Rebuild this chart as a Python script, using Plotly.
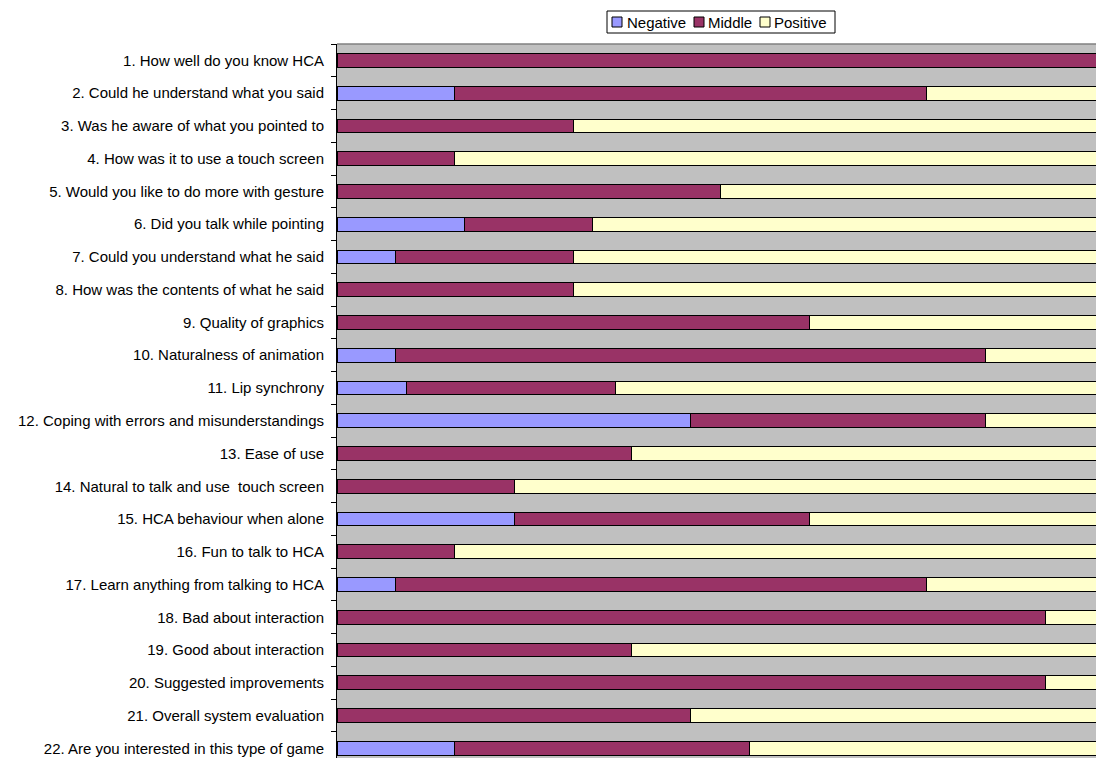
import plotly.graph_objects as go

categories = [
    "1. How well do you know HCA",
    "2. Could he understand what you said",
    "3. Was he aware of what you pointed to",
    "4. How was it to use a touch screen",
    "5. Would you like to do more with gesture",
    "6. Did you talk while pointing",
    "7. Could you understand what he said",
    "8. How was the contents of what he said",
    "9. Quality of graphics",
    "10. Naturalness of animation",
    "11. Lip synchrony",
    "12. Coping with errors and misunderstandings",
    "13. Ease of use",
    "14. Natural to talk and use  touch screen",
    "15. HCA behaviour when alone",
    "16. Fun to talk to HCA",
    "17. Learn anything from talking to HCA",
    "18. Bad about interaction",
    "19. Good about interaction",
    "20. Suggested improvements",
    "21. Overall system evaluation",
    "22. Are you interested in this type of game",
]
series_names = ["Negative", "Middle", "Positive"]
negative = [0, 15.38, 0, 0, 0, 16.67, 7.69, 0, 0, 7.69, 9.09, 46.15, 0, 0, 23.08, 0, 7.69, 0, 0, 0, 0, 15.38]
middle = [100, 61.54, 30.77, 15.38, 50, 16.67, 23.08, 30.77, 61.54, 76.92, 27.27, 38.46, 38.46, 23.08, 38.46, 15.38, 69.23, 92.31, 38.46, 92.31, 46.15, 38.46]
positive = [0, 23.08, 69.23, 84.62, 50, 66.67, 69.23, 69.23, 38.46, 15.38, 63.64, 15.38, 61.54, 76.92, 38.46, 84.62, 23.08, 7.69, 61.54, 7.69, 53.85, 46.15]
colors = ["#9999FF", "#993366", "#FFFFCC"]

W, H = 1096, 758
ML, MT, MR, MB = 337, 44, 0, 0
FONT = "Liberation Sans, Arial, sans-serif"

fig = go.Figure()
for name, vals, col in zip(series_names, [negative, middle, positive], colors):
    fig.add_trace(go.Bar(
        y=categories, x=[v if v else None for v in vals], name=name, orientation="h",
        width=0.42, marker=dict(color=col, line=dict(color="black", width=1)),
        showlegend=False,
    ))

pw, ph = W - ML - MR, H - MT - MB
def px2x(px):
    return (px - ML) / pw
def px2y(py):
    return (H - MB - py) / ph

shapes = []
annotations = []
# legend box
shapes.append(dict(type="rect", xref="paper", yref="paper", x0=px2x(607), x1=px2x(835),
                   y0=px2y(33), y1=px2y(11), line=dict(color="black", width=1), fillcolor="white"))
leg_sq = [612, 694, 760]
leg_tx = [626, 707, 773]
for name, col, sx, tx in zip(series_names, colors, leg_sq, leg_tx):
    shapes.append(dict(type="rect", xref="paper", yref="paper", x0=px2x(sx), x1=px2x(sx + 10),
                       y0=px2y(27), y1=px2y(17), line=dict(color="black", width=1), fillcolor=col))
    annotations.append(dict(xref="paper", yref="paper", x=px2x(tx), y=px2y(22), text=name,
                            showarrow=False, xanchor="left", yanchor="middle",
                            font=dict(family=FONT, size=15, color="black"), borderpad=0))
# top border of plot area
shapes.append(dict(type="line", xref="paper", yref="paper", x0=0, x1=1, y0=1, y1=1,
                   line=dict(color="#808080", width=1.5)))

fig.update_layout(
    width=W, height=H, barmode="stack",
    margin=dict(l=ML, r=MR, t=MT, b=MB),
    paper_bgcolor="white", plot_bgcolor="#C0C0C0",
    font=dict(family=FONT, size=15, color="black"),
    shapes=shapes, annotations=annotations,
    xaxis=dict(range=[0, 100 * pw / 767], showticklabels=False, showgrid=False,
               zeroline=False, showline=False, ticks=""),
    yaxis=dict(type="category", categoryorder="array", categoryarray=categories,
               range=[-0.5 + ph / 32.76, -0.5], showgrid=False, zeroline=False,
               showline=True, linecolor="black", linewidth=1,
               ticks="outside", tickson="boundaries", ticklen=5, tickcolor="black",
               ticklabelstandoff=9,
               tickfont=dict(family=FONT, size=15, color="black")),
)
fig.write_html("out.html", config={"displayModeBar": False},
               post_script="document.body.style.margin='0';document.body.style.overflow='hidden';")
